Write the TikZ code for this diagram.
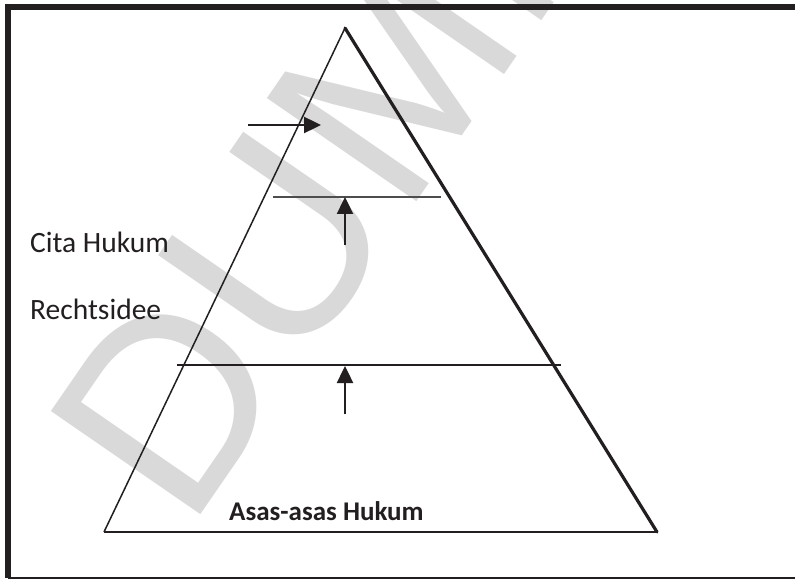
\documentclass[tikz,border=0pt]{standalone}
\usepackage{fontspec}
\setmainfont{Carlito}
\newfontfamily\wmfont{Liberation Sans}
\usetikzlibrary{arrows.meta}
\definecolor{ink}{HTML}{231F20}
\definecolor{wm}{HTML}{D9D9D9}
\tikzset{
  frameline/.style={draw=ink, line width=6pt},
  thinline/.style={draw=ink, line width=1.5pt},
  sideline/.style={draw=ink, line width=3.2pt},
  baseline2/.style={draw=ink, line width=2pt},
  arr/.style={draw=ink, line width=2.4pt, -{Triangle[length=17pt,width=16pt]}},
  lbl/.style={anchor=base west, inner sep=0pt, text=ink, font=\fontsize{29.5pt}{31pt}\selectfont},
  lblb/.style={anchor=base west, inner sep=0pt, text=ink, font=\fontsize{27pt}{29pt}\selectfont\bfseries},
}
\begin{document}
\begin{tikzpicture}[x=1pt,y=-1pt]
\useasboundingbox (0,0) rectangle (795,580);
\fill[white] (0,0) rectangle (795,580);
% watermark
\node[anchor=base west, inner sep=0pt, rotate=55.4, text=wm, font=\wmfont\fontsize{264pt}{270pt}\selectfont] (wmark) at (188,533) {DUMMY};
% frame
\coordinate (ftr) at (800,7);
\coordinate (ftl) at (8,7);
\coordinate (fbl) at (8,578);
\coordinate (fbr) at (800,578);
\draw[frameline] (ftr) -- (ftl) -- (fbl);
\draw[ink, line width=2pt] (fbl) -- (fbr);
% triangle
\coordinate (apex) at (345,28);
\coordinate (bl) at (104,532);
\coordinate (br) at (657,532);
\draw[thinline] (apex) -- (bl);
\draw[sideline, line cap=round] (apex) -- (br);
\draw[baseline2] (bl) -- (br);
% horizontal lines
\coordinate (h1a) at (273,197);
\coordinate (h1b) at (441,197);
\coordinate (h2a) at (177,365);
\coordinate (h2b) at (561,365);
\draw[ink!80, line width=1.5pt] (h1a) -- (h1b);
\draw[baseline2] (h2a) -- (h2b);
% arrows
\coordinate (a1s) at (248,125);
\coordinate (a1e) at (321,125);
\coordinate (a2s) at (345,245);
\coordinate (a2e) at (345,197);
\coordinate (a3s) at (345,414);
\coordinate (a3e) at (345,366);
\draw[arr] (a1s) -- (a1e);
\draw[arr] (a2s) -- (a2e);
\draw[arr] (a3s) -- (a3e);
% labels
\node[lbl] (cita) at (30,252) {Cita Hukum};
\node[lbl] (recht) at (30,319) {Rechtsidee};
\node[lblb] (asas) at (229,520) {Asas-asas Hukum};
\end{tikzpicture}
\end{document}
